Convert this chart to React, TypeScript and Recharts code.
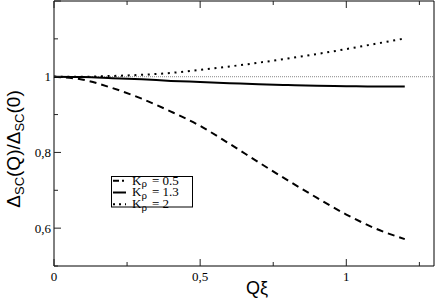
import React from 'react';
import { LineChart, Line, XAxis, YAxis, ReferenceLine, Label } from 'recharts';

// ── Data ────────────────────────────────────────────────────

const qXi = [0, 0.1, 0.2, 0.3, 0.4, 0.5, 0.6, 0.7, 0.8, 0.9, 1.0, 1.1, 1.2];
const kRho05 = [1.0, 0.992, 0.97, 0.942, 0.908, 0.87, 0.823, 0.774, 0.726, 0.68, 0.636, 0.599, 0.571];
const kRho13 = [1.0, 0.999, 0.996, 0.993, 0.989, 0.986, 0.983, 0.98, 0.978, 0.976, 0.975, 0.974, 0.974];
const kRho2 = [1.0, 1.0, 1.002, 1.005, 1.01, 1.018, 1.027, 1.037, 1.048, 1.06, 1.073, 1.087, 1.101];

const xMajorTicks = [0, 0.5, 1];
const xMinorTicks = [0.25, 0.75, 1.25];
const yMajorTicks = [0.6, 0.8, 1, 1.2];
const yMinorTicks = [0.5, 0.7, 0.9, 1.1];
const yLabelledTicks = [0.6, 0.8, 1];

const seriesLabels = ['0.5', '1.3', '2'];

const chartData = qXi.map((q, i) => ({ q, k05: kRho05[i], k13: kRho13[i], k2: kRho2[i] }));

const xTicks = [...xMajorTicks, ...xMinorTicks].sort((a, b) => a - b);
const yTicks = [...yMajorTicks, ...yMinorTicks].sort((a, b) => a - b);

const SERIF = '"Liberation Serif", "Times New Roman", serif';
const SANS = '"Liberation Sans", Arial, sans-serif';

const fmt = (v: number) => String(v).replace('.', ',');

// ── Ticks (drawn inward, like the original) ─────────────────

function XTick(props: any) {
  const { x, y, payload, side } = props;
  const major = xMajorTicks.includes(payload.value);
  const len = major ? 7 : 4;
  const dir = side === 'bottom' ? -1 : 1;
  return (
    <g>
      <line x1={x} y1={y} x2={x} y2={y + dir * len} stroke="#222" strokeWidth={1} />
      {side === 'bottom' && major && (
        <text x={x} y={y + 15} textAnchor="middle" fontFamily={SERIF} fontSize={13} fill="#000">
          {fmt(payload.value)}
        </text>
      )}
    </g>
  );
}

function YTick(props: any) {
  const { x, y, payload, side } = props;
  const major = yMajorTicks.includes(payload.value);
  const len = major ? 7 : 4;
  const dir = side === 'left' ? 1 : -1;
  return (
    <g>
      <line x1={x} y1={y} x2={x + dir * len} y2={y} stroke="#222" strokeWidth={1} />
      {side === 'left' && yLabelledTicks.includes(payload.value) && (
        <text x={x - 3} y={y + 4.5} textAnchor="end" fontFamily={SERIF} fontSize={13} fill="#000">
          {fmt(payload.value)}
        </text>
      )}
    </g>
  );
}

// ── Axis labels ─────────────────────────────────────────────

function YTitle() {
  const cx = 20;
  const cy = 149;
  return (
    <text
      x={cx}
      y={cy}
      textAnchor="middle"
      transform={`rotate(-90, ${cx}, ${cy})`}
      fontFamily={SANS}
      fontSize={19}
      fill="#000"
    >
      <tspan>Δ</tspan>
      <tspan fontSize={13} dy={4}>SC</tspan>
      <tspan dy={-4}>(Q)/Δ</tspan>
      <tspan fontSize={13} dy={4}>SC</tspan>
      <tspan dy={-4}>(0)</tspan>
    </text>
  );
}

function XTitle() {
  return (
    <text x={257} y={294} textAnchor="middle" fontFamily={SANS} fontSize={18} fill="#000">
      Qξ
    </text>
  );
}

// ── Legend box ──────────────────────────────────────────────

const legendStyles = [
  { dash: '6 3 2 3', width: 2 },
  { dash: undefined, width: 2 },
  { dash: '2 4', width: 2 },
];

function LegendBox() {
  return (
    <svg
      width={84}
      height={34}
      style={{ position: 'absolute', left: 111, top: 176, display: 'block', overflow: 'visible' }}
    >
      <rect x={0.5} y={0.5} width={81} height={30.5} fill="#fff" stroke="#000" strokeWidth={1} />
      {seriesLabels.map((lab, i) => {
        const cy = 4.7 + i * 11.8;
        return (
          <g key={lab}>
            <line x1={2} x2={15} y1={cy} y2={cy} stroke="#000" strokeWidth={legendStyles[i].width} strokeDasharray={legendStyles[i].dash} />
            <text x={21} y={cy + 3.8} fontFamily={SERIF} fontSize={13} fill="#000">
              <tspan>K</tspan>
              <tspan fontSize={11} dy={2.5}>ρ</tspan>
              <tspan x={41} dy={-2.5}>{`= ${lab}`}</tspan>
            </text>
          </g>
        );
      })}
    </svg>
  );
}

// ── Chart ───────────────────────────────────────────────────

export default function App() {
  return (
    <div style={{ position: 'absolute', left: 0, top: 0, width: 436, height: 299, background: '#fff' }}>
      <LineChart width={436} height={299} data={chartData} margin={{ top: 0, right: 0, bottom: 0, left: 0 }}>
        <XAxis
          xAxisId="b"
          dataKey="q"
          type="number"
          domain={[0, 1.3]}
          ticks={xTicks}
          interval={0}
          height={33}
          tickSize={0}
          tickMargin={0}
          tickLine={false}
          axisLine={{ stroke: '#000', strokeWidth: 1 }}
          tick={<XTick side="bottom" />}
        >
          <Label content={<XTitle />} />
        </XAxis>
        <XAxis
          xAxisId="t"
          dataKey="q"
          type="number"
          orientation="top"
          domain={[0, 1.3]}
          ticks={xTicks}
          interval={0}
          height={1}
          tickSize={0}
          tickMargin={0}
          tickLine={false}
          axisLine={{ stroke: '#000', strokeWidth: 1 }}
          tick={<XTick side="top" />}
        />
        <YAxis
          yAxisId="l"
          type="number"
          domain={[0.5, 1.2]}
          ticks={yTicks}
          interval={0}
          width={54}
          tickSize={0}
          tickMargin={0}
          tickLine={false}
          axisLine={{ stroke: '#000', strokeWidth: 1 }}
          tick={<YTick side="left" />}
        >
          <Label content={<YTitle />} />
        </YAxis>
        <YAxis
          yAxisId="r"
          orientation="right"
          type="number"
          domain={[0.5, 1.2]}
          ticks={yTicks}
          interval={0}
          width={2}
          tickSize={0}
          tickMargin={0}
          tickLine={false}
          axisLine={{ stroke: '#000', strokeWidth: 1 }}
          tick={<YTick side="right" />}
        />
        <ReferenceLine xAxisId="b" yAxisId="l" y={1} stroke="#888" strokeWidth={1} strokeDasharray="1 1" />
        <Line xAxisId="b" yAxisId="l" type="monotone" dataKey="k05" stroke="#000" strokeWidth={2} strokeDasharray="7 5" dot={false} isAnimationActive={false} />
        <Line xAxisId="b" yAxisId="l" type="monotone" dataKey="k13" stroke="#000" strokeWidth={2} dot={false} isAnimationActive={false} />
        <Line xAxisId="b" yAxisId="l" type="monotone" dataKey="k2" stroke="#000" strokeWidth={2} strokeDasharray="2 4.7" dot={false} isAnimationActive={false} />
      </LineChart>
      <LegendBox />
    </div>
  );
}
